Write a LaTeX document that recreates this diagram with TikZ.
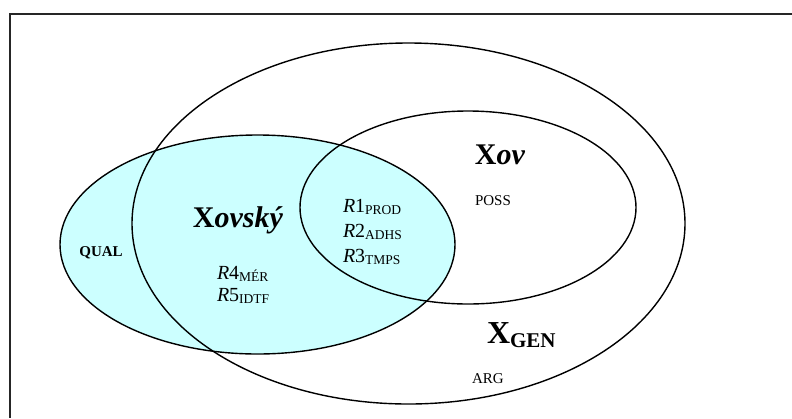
\documentclass[tikz,border=0pt]{standalone}
\usepackage{fontspec}
\setmainfont{Liberation Serif}
\definecolor{venncyan}{HTML}{CCFFFF}
\newcommand{\fsz}[1]{\fontsize{#1bp}{#1bp}\selectfont}
\newcommand{\subtxt}[1]{\raisebox{-2bp}{\fsz{13.5}#1}}
\begin{document}
\begin{tikzpicture}[x=1bp,y=-1bp,
  venn/.style={draw=black,line width=1.4bp},
  frameline/.style={draw=black!85,line width=2bp},
  lbl/.style={inner sep=0pt,outer sep=0pt},
  bigtitle/.style={lbl,font=\bfseries\fsz{30}},
  smalllbl/.style={lbl,font=\fsz{15}},
  rlbl/.style={lbl,anchor=base west,font=\fsz{20}}]
\useasboundingbox (0,0) rectangle (792,418);
% filled Xovsky ellipse
\fill[venncyan] (257.5,244.5) ellipse [x radius=197.5bp, y radius=109.5bp];
\draw[venn] (257.5,244.5) ellipse [x radius=197.5bp, y radius=109.5bp];
% X_GEN ellipse
\draw[venn] (408.5,223.5) ellipse [x radius=276.5bp, y radius=180.5bp];
% Xov ellipse
\draw[venn] (468,207.5) ellipse [x radius=168bp, y radius=96.5bp];
% frame (top and left)
\coordinate (ftr) at (792,14);
\coordinate (ftl) at (10,14);
\coordinate (fbl) at (10,418);
\draw[frameline] (ftr) -- (ftl) -- (fbl);
% labels
\node[bigtitle,anchor=base] (xovsky) at (238,227) {X\textit{ovský}};
\node[bigtitle,anchor=base] (xov) at (500,164) {X\textit{ov}};
\node[smalllbl,anchor=base] (poss) at (493,205) {POSS};
\node[lbl,anchor=base,font=\bfseries\fsz{15}] (qual) at (101,256) {QUAL};
\node[rlbl] (r1) at (343,212) {\textit{R}1\subtxt{PROD}};
\node[rlbl] (r2) at (343,237) {\textit{R}2\subtxt{ADHS}};
\node[rlbl] (r3) at (343,262) {\textit{R}3\subtxt{TMPS}};
\node[rlbl] (r4) at (217,279) {\textit{R}4\subtxt{MÉR}};
\node[rlbl] (r5) at (217,301) {\textit{R}5\subtxt{IDTF}};
\node[lbl,anchor=base west,font=\bfseries\fsz{32}] (xgen) at (487,343) {X\raisebox{-4bp}{\fsz{21}GEN}};
\node[smalllbl,anchor=base west] (arg) at (472,383) {ARG};
\end{tikzpicture}
\end{document}
